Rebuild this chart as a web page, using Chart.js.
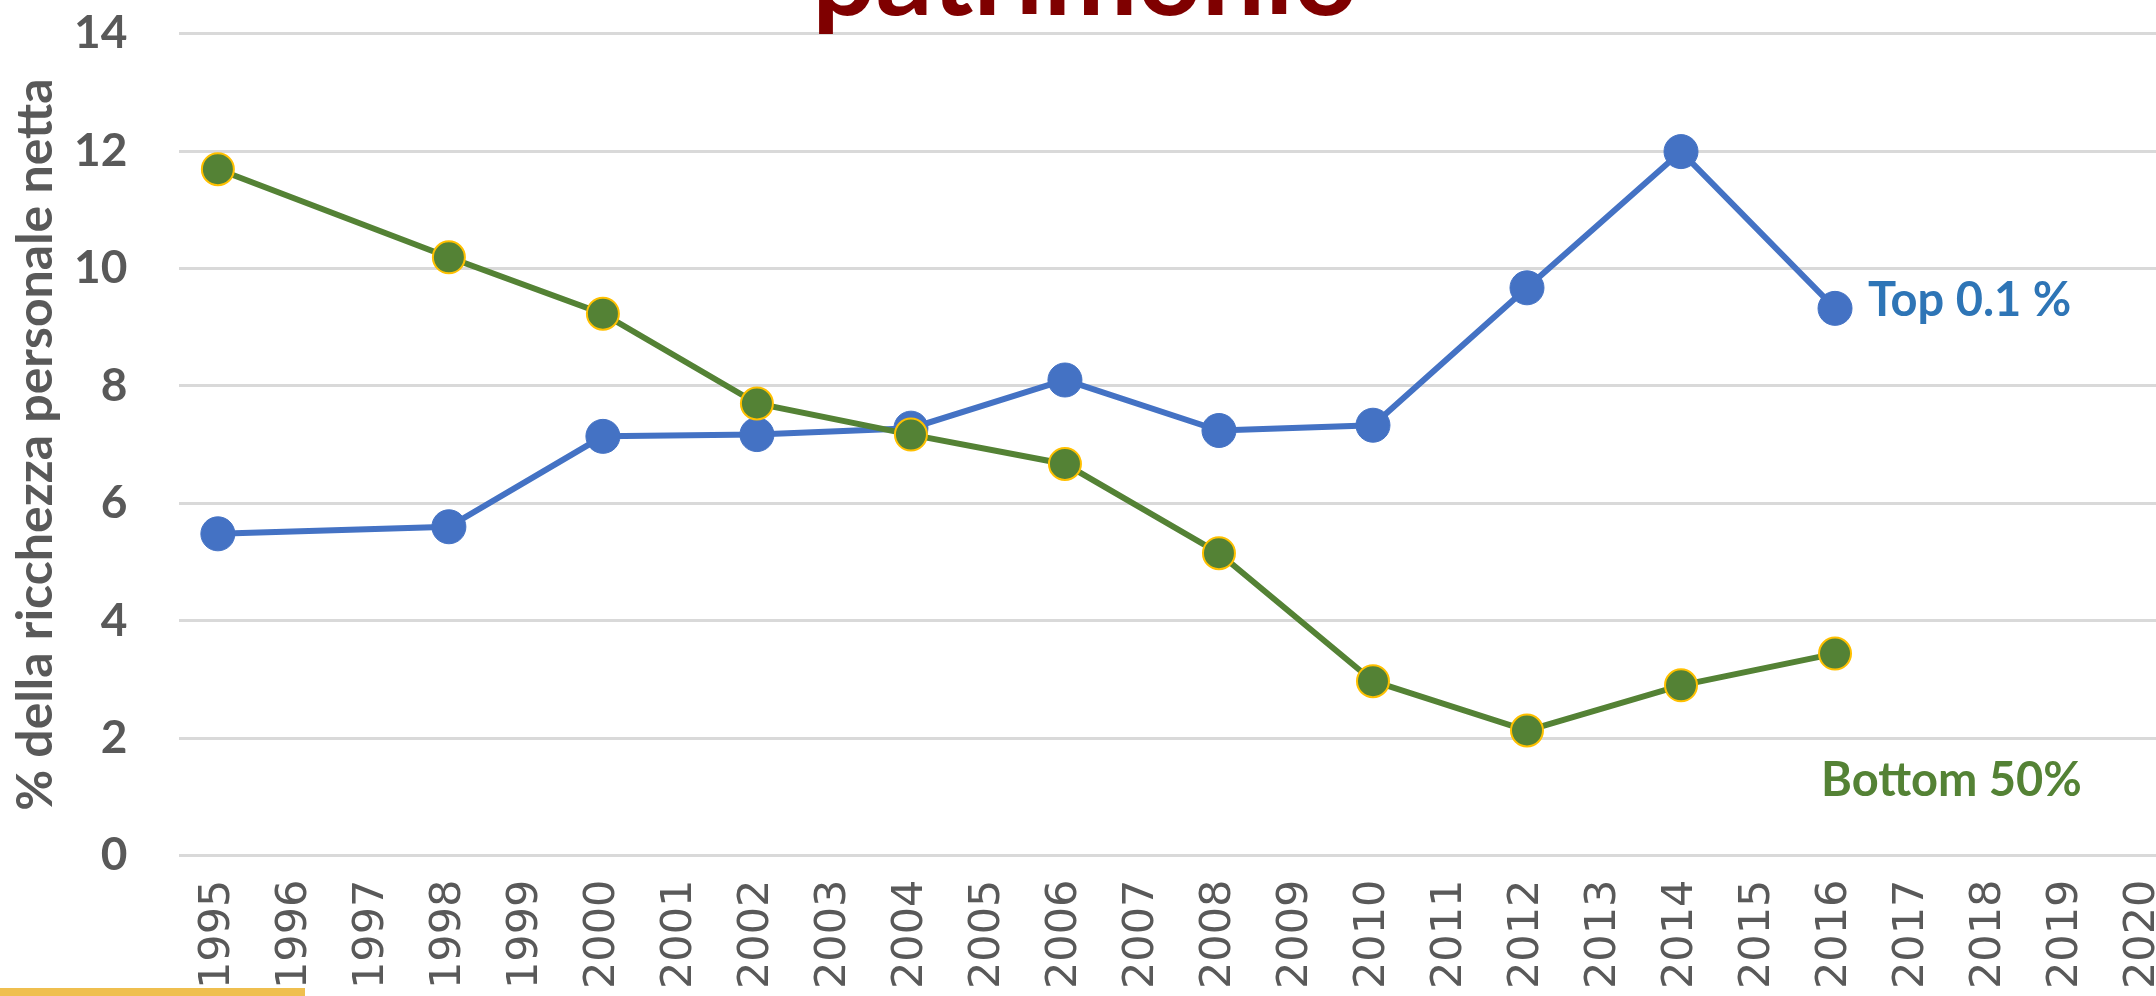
<!DOCTYPE html>
<html>
<head>
<meta charset="utf-8">
<script src="https://cdn.jsdelivr.net/npm/chart.js@4/dist/chart.umd.min.js"></script>
<style>
  html, body { margin: 0; padding: 0; background: #fff; overflow: hidden; }
  #wrap { position: absolute; left: 0; top: 0; width: 2211px; height: 1005px; }
  #bar { position: absolute; left: 0; top: 988px; width: 305px; height: 12px; background: #EFBF4F; z-index: 2; }
</style>
</head>
<body>
<div id="wrap"><canvas id="chart"></canvas></div>
<div id="bar"></div>
<script>
// Years on the category axis (only some carry observations)
var years = ['1995', '1996', '1997', '1998', '1999', '2000', '2001', '2002', '2003', '2004',
  '2005', '2006', '2007', '2008', '2009', '2010', '2011', '2012', '2013', '2014',
  '2015', '2016', '2017', '2018', '2019', '2020'];

// % of net personal wealth
var top01 = [5.48, null, null, 5.60, null, 7.14, null, 7.17, null, 7.28,
  null, 8.10, null, 7.24, null, 7.33, null, 9.67, null, 11.99,
  null, 9.32, null, null, null, null];
var bottom50 = [11.69, null, null, 10.19, null, 9.23, null, 7.70, null, 7.17,
  null, 6.67, null, 5.15, null, 2.97, null, 2.13, null, 2.90,
  null, 3.44, null, null, null, null];

var yTicks = [0, 2, 4, 6, 8, 10, 12, 14];

var grey = '#595959';
var blue = '#4472C4';
var green = '#548235';

// Cut-off slide title and the two series labels next to the last points
var annotations = {
  id: 'annotations',
  afterDatasetsDraw: function (chart) {
    var ctx = chart.ctx;
    var x = chart.scales.x;
    var y = chart.scales.y;
    var last = years.indexOf('2016');
    var px = x.getPixelForValue(last);
    ctx.save();
    ctx.textBaseline = 'middle';
    ctx.textAlign = 'left';
    ctx.font = 'bold 47px Lato';
    ctx.fillStyle = '#2E75B6';
    ctx.fillText('Top 0.1 %', px + 33, y.getPixelForValue(top01[last]) - 8);
    ctx.fillStyle = green;
    ctx.fillText('Bottom 50%', px - 14, y.getPixelForValue(1.28));
    ctx.textAlign = 'center';
    ctx.textBaseline = 'alphabetic';
    ctx.font = 'bold 112px Lato';
    ctx.fillStyle = '#7F0000';
    ctx.fillText('patrimonio', 1085, 15);
    ctx.restore();
  }
};

new Chart(document.getElementById('chart'), {
  type: 'line',
  data: {
    labels: years,
    datasets: [
      {
        label: 'Bottom 50%',
        data: bottom50,
        borderColor: green,
        backgroundColor: green,
        borderWidth: 6,
        pointRadius: 16,
        pointBackgroundColor: green,
        pointBorderColor: '#FFC000',
        pointBorderWidth: 2,
        spanGaps: true,
        tension: 0
      },
      {
        label: 'Top 0.1 %',
        data: top01,
        borderColor: blue,
        backgroundColor: blue,
        borderWidth: 6,
        pointRadius: 17,
        pointBackgroundColor: blue,
        pointBorderColor: blue,
        pointBorderWidth: 1,
        spanGaps: true,
        tension: 0
      }
    ]
  },
  options: {
    responsive: true,
    maintainAspectRatio: false,
    animation: false,
    layout: { padding: { top: 0, left: 2, right: 2, bottom: 0 } },
    plugins: {
      legend: { display: false },
      tooltip: { enabled: false }
    },
    scales: {
      x: {
        type: 'category',
        offset: true,
        grid: { display: false },
        border: { display: false },
        ticks: {
          autoSkip: false,
          minRotation: 90,
          maxRotation: 90,
          padding: 16,
          color: grey,
          font: { family: 'DejaVu Sans', size: 43 }
        }
      },
      y: {
        min: 0,
        max: 14,
        afterBuildTicks: function (axis) {
          axis.ticks = yTicks.map(function (v) { return { value: v }; });
        },
        // invisible tick marks give the gap between labels and plot
        grid: { color: '#D9D9D9', lineWidth: 3, drawTicks: true, tickLength: 46, tickColor: 'rgba(0,0,0,0)' },
        border: { display: false },
        ticks: {
          padding: 6,
          color: grey,
          font: { family: 'Lato', size: 46, weight: 'bold' }
        },
        title: {
          display: true,
          text: '% della ricchezza personale netta',
          color: grey,
          padding: { top: 4, bottom: 2 },
          font: { family: 'Lato', size: 50, weight: 'bold' }
        }
      }
    }
  },
  plugins: [annotations]
});
</script>
</body>
</html>
